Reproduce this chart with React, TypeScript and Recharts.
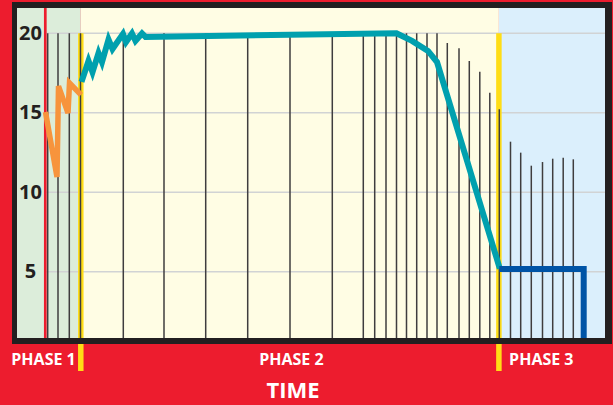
import React from "react";
import {
  ComposedChart,
  Line,
  XAxis,
  YAxis,
  ReferenceArea,
  ReferenceLine,
  Label,
} from "recharts";

// time axis: 0 = start of measurement (red line), one unit per step
const xDomain = [-2.83, 55.97];
const yDomain = [0.83, 21.59];
const yTicks = [5, 10, 15, 20];

const phaseTicks = [-0.18, 24.61, 49.6];
const phaseLabels = ["PHASE 1", "PHASE 2", "PHASE 3"];

// phase bands and yellow phase borders
const phaseBounds = [-2.83, 3.55, 45.36, 55.97];
const phaseColors = ["#dcedda", "#fffde4", "#dbeffc"];
const phaseBorders = [3.55, 45.36];
const borderTop = 20;
const borderBottom = -1.25;

// thin vertical markers: position and height
const markerTimes = [
  0.24, 1.27, 2.4, 3.52, 7.8, 11.87, 16.04, 20.24, 24.47, 28.7, 31.8, 32.94,
  34.07, 35.12, 36.12, 37.14, 38.17, 39.17, 40.2, 41.37, 42.4, 43.45, 44.45,
  45.4, 46.52, 47.54, 48.6, 49.72, 50.74, 51.79, 52.8,
];
const markerTops = [
  20, 20, 20, 20, 20, 20, 20, 20, 20, 20, 20, 20, 20, 20, 20, 20, 20, 20,
  19.39, 19.06, 18.26, 17.58, 16.26, 15.22, 13.18, 12.49, 11.67, 11.9, 12.11,
  12.17, 12.07,
];

const orangeTime = [0.02, 1.17, 1.32, 2.27, 2.42, 3.57];
const orangeLevel = [15.05, 10.96, 16.68, 14.98, 16.87, 16.12];

const tealTime = [
  3.62, 4.32, 4.72, 5.32, 5.67, 6.32, 6.72, 7.77, 8.07, 8.67, 9.02, 9.67,
  10.02, 35.12, 36.67, 38.27, 39.17, 45.45,
];
const tealLevel = [
  16.94, 18.26, 17.56, 18.76, 18.19, 19.61, 19.01, 19.96, 19.45, 19.99, 19.52,
  19.99, 19.77, 20.0, 19.52, 18.89, 18.19, 5.2,
];

const blueTime = [45.4, 53.84, 53.84];
const blueLevel = [5.17, 5.17, 0.83];

const toData = (ts: number[], vs: number[]) =>
  ts.map((t, i) => ({ t, v: vs[i] }));

const orangeData = toData(orangeTime, orangeLevel);
const tealData = toData(tealTime, tealLevel);
const blueData = toData(blueTime, blueLevel);

const FONT = "'Open Sans', 'Noto Sans', sans-serif";

const YTick = (props: any) => {
  const { x, y, payload } = props;
  return (
    <text
      x={x + 13.5}
      y={y}
      dy="0.33em"
      textAnchor="middle"
      fill="#231f20"
      fontSize={20}
      fontWeight={700}
      fontFamily={FONT}
    >
      {payload.value}
    </text>
  );
};

const PhaseTick = (props: any) => {
  const { x, y, payload } = props;
  const label = phaseLabels[phaseTicks.indexOf(payload.value)];
  return (
    <text
      x={x}
      y={y}
      dy={27}
      textAnchor="middle"
      fill="#ffffff"
      fontSize={16}
      fontWeight={700}
      fontFamily={FONT}
    >
      {label}
    </text>
  );
};

const App = () => {
  return (
    <div
      style={{
        position: "absolute",
        left: 0,
        top: 0,
        width: 613,
        height: 405,
        background: "#ed1c2e",
        overflow: "hidden",
      }}
    >
      <ComposedChart
        width={613}
        height={405}
        margin={{ top: 8, right: 8, bottom: 0, left: 17 }}
      >
        <XAxis
          type="number"
          dataKey="t"
          domain={xDomain}
          allowDataOverflow
          ticks={phaseTicks}
          interval={0}
          axisLine={false}
          tickLine={false}
          tickSize={0}
          tickMargin={0}
          height={67}
          tick={<PhaseTick />}
        >
          <Label
            value="TIME"
            position="insideBottom"
            offset={7}
            dx={-18}
            fill="#ffffff"
            fontSize={22}
            fontWeight={700}
            fontFamily={FONT}
          />
        </XAxis>
        <YAxis
          type="number"
          dataKey="v"
          domain={yDomain}
          allowDataOverflow
          ticks={yTicks}
          mirror
          axisLine={false}
          tickLine={false}
          tickSize={0}
          tickMargin={0}
          tick={<YTick />}
        />
        {phaseColors.map((c, i) => (
          <ReferenceArea
            key={"band" + i}
            x1={phaseBounds[i]}
            x2={phaseBounds[i + 1]}
            fill={c}
            fillOpacity={1}
            stroke="none"
          />
        ))}
        {yTicks.map((v) => (
          <ReferenceLine
            key={"grid" + v}
            segment={[
              { x: 0, y: v },
              { x: xDomain[1], y: v },
            ]}
            stroke="#d1d3d4"
            strokeWidth={1.6}
          />
        ))}
        <ReferenceLine x={0} stroke="#ed1c2e" strokeWidth={2.7} />
        {phaseBorders.map((t) => (
          <ReferenceLine
            key={"phase" + t}
            segment={[
              { x: t, y: borderTop },
              { x: t, y: borderBottom },
            ]}
            ifOverflow="visible"
            stroke="#ffdd15"
            strokeWidth={5.5}
          />
        ))}
        {markerTimes.map((t, i) => (
          <ReferenceLine
            key={"m" + i}
            segment={[
              { x: t, y: yDomain[0] },
              { x: t, y: markerTops[i] },
            ]}
            stroke="#3f3d3e"
            strokeWidth={1.5}
          />
        ))}
        <Line
          data={orangeData}
          dataKey="v"
          type="linear"
          stroke="#f7943c"
          strokeWidth={5.5}
          strokeLinejoin="miter"
          dot={false}
          activeDot={false}
          isAnimationActive={false}
        />
        <Line
          data={tealData}
          dataKey="v"
          type="linear"
          stroke="#00a0ae"
          strokeWidth={6}
          strokeLinejoin="miter"
          dot={false}
          activeDot={false}
          isAnimationActive={false}
        />
        <Line
          data={blueData}
          dataKey="v"
          type="linear"
          stroke="#0054a6"
          strokeWidth={6}
          strokeLinejoin="miter"
          dot={false}
          activeDot={false}
          isAnimationActive={false}
        />
      </ComposedChart>
      <div
        style={{
          position: "absolute",
          left: 12,
          top: 2,
          width: 600,
          height: 342,
          boxSizing: "border-box",
          borderStyle: "solid",
          borderColor: "#231f20",
          borderWidth: "6px 7px 6px 5px",
          pointerEvents: "none",
        }}
      />
    </div>
  );
};

export default App;
